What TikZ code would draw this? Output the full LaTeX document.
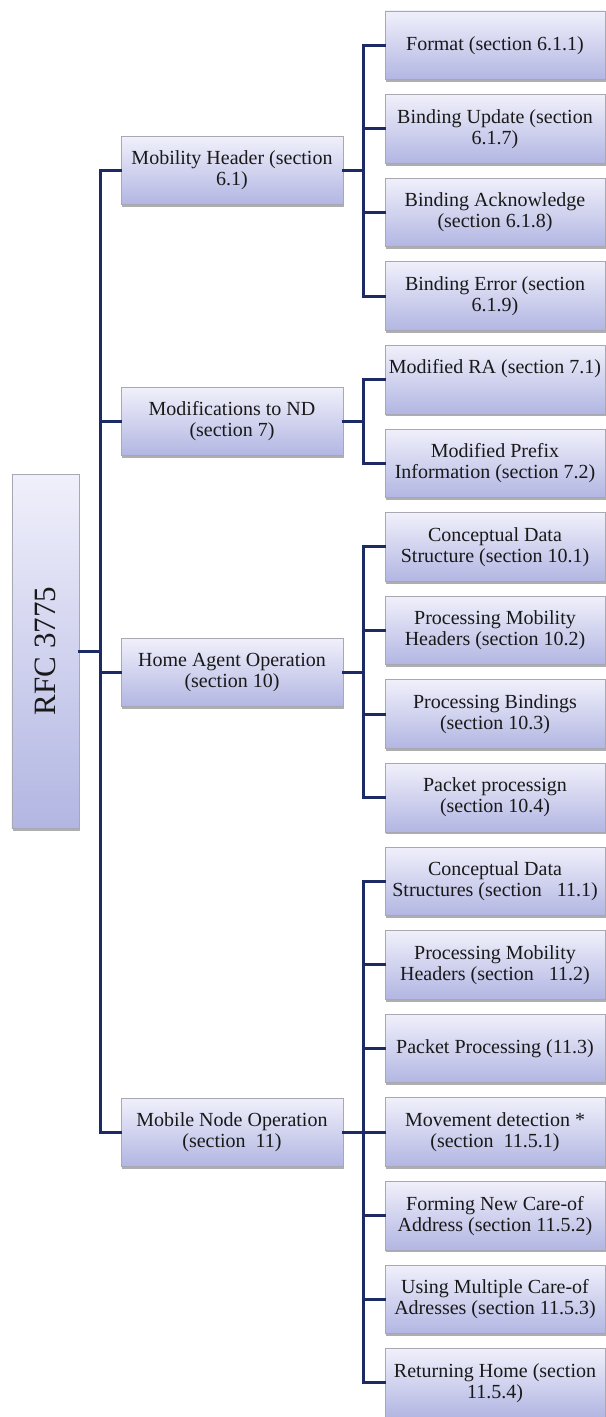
\documentclass[tikz,border=0pt]{standalone}
\usepackage{fontspec}
\setmainfont{Liberation Serif}
\usepackage{graphicx}
\usetikzlibrary{shadows}

\definecolor{linknavy}{RGB}{28,42,102}
\definecolor{boxtop}{RGB}{240,240,251}
\definecolor{boxbot}{RGB}{178,182,226}
\definecolor{boxedge}{RGB}{168,168,178}
\definecolor{inkgray}{RGB}{25,25,25}

\newcommand\boxfont{\fontsize{20bp}{21bp}\selectfont}
\newcommand\rootfont{\fontsize{31bp}{34bp}\selectfont}

\begin{document}
\begin{tikzpicture}[x=1bp,y=-1bp,
  box/.style={draw=boxedge, line width=0.8bp,
    top color=boxtop, bottom color=boxbot,
    drop shadow={shadow xshift=1bp, shadow yshift=-2.5bp, opacity=0.45, fill=black!70},
    inner sep=2bp, align=center, text=inkgray, font=\boxfont},
  rootbox/.style={box, minimum width=67bp, minimum height=354bp, font=\rootfont},
  midbox/.style={box, minimum width=222bp, minimum height=68bp},
  leafbox/.style={box, minimum width=220bp, minimum height=68.5bp},
  link/.style={draw=linknavy, line width=3bp, line join=miter, line cap=rect}
]
\useasboundingbox (0,0) rectangle (606,1417);

% trunk and branch columns
\coordinate (trunk) at (100,0);
\coordinate (br) at (363,0);

% root
\node[rootbox] (root) at (45.5,651) {\rotatebox{90}{RFC 3775}};

% second level
\node[midbox] (m1) at (232,170.65)  {Mobility Header (section\\6.1)};
\node[midbox] (m2) at (232,421.45)  {Modifications to ND\\(section 7)};
\node[midbox] (m3) at (232,672.25)  {Home Agent Operation\\(section 10)};
\node[midbox] (m4) at (232,1132.05) {Mobile Node Operation\\(section~~11)};

% leaves, one every 83.6bp
\foreach \i/\t in {
  0/{Format (section 6.1.1)},
  1/{Binding Update (section\\6.1.7)},
  2/{Binding Acknowledge\\(section 6.1.8)},
  3/{Binding Error (section\\6.1.9)},
  4/{Modified RA (section 7.1)\\\strut},
  5/{Modified Prefix\\Information (section 7.2)},
  6/{Conceptual Data\\Structure (section 10.1)},
  7/{Processing Mobility\\Headers (section 10.2)},
  8/{Processing Bindings\\(section 10.3)},
  9/{Packet processign\\(section 10.4)},
  10/{Conceptual Data\\Structures (section~~~11.1)},
  11/{Processing Mobility\\Headers (section~~~11.2)},
  12/{Packet Processing (11.3)},
  13/{Movement detection *\\(section~~11.5.1)},
  14/{Forming New Care-of\\Address (section 11.5.2)},
  15/{Using Multiple Care-of\\Adresses (section 11.5.3)},
  16/{Returning Home (section\\11.5.4)}}
{
  \node[leafbox] (l\i) at (495,{45.25+83.6*\i}) {\t};
}

% root to second level
\draw[link] (root.east) -- (root.east -| trunk);
\draw[link] (m1.west) -- (m1.west -| trunk) -- (m4.west -| trunk) -- (m4.west);
\draw[link] (m2.west) -- (m2.west -| trunk);
\draw[link] (m3.west) -- (m3.west -| trunk);

% second level to leaves
\draw[link] (m1.east) -- (m1.east -| br);
\draw[link] (l0.west) -- (l0.west -| br) -- (l3.west -| br) -- (l3.west);
\foreach \i in {1,2} \draw[link] (l\i.west) -- (l\i.west -| br);

\draw[link] (m2.east) -- (m2.east -| br);
\draw[link] (l4.west) -- (l4.west -| br) -- (l5.west -| br) -- (l5.west);

\draw[link] (m3.east) -- (m3.east -| br);
\draw[link] (l6.west) -- (l6.west -| br) -- (l9.west -| br) -- (l9.west);
\foreach \i in {7,8} \draw[link] (l\i.west) -- (l\i.west -| br);

\draw[link] (m4.east) -- (m4.east -| br);
\draw[link] (l10.west) -- (l10.west -| br) -- (l16.west -| br) -- (l16.west);
\foreach \i in {11,...,15} \draw[link] (l\i.west) -- (l\i.west -| br);
\end{tikzpicture}
\end{document}
